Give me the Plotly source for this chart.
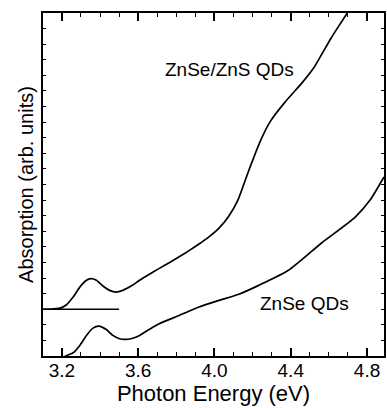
import plotly.graph_objects as go

# ZnSe/ZnS QDs absorption (arb. units)
core_shell_energy = [3.101, 3.137, 3.190, 3.224, 3.259, 3.294, 3.329, 3.351, 3.381, 3.415,
                     3.450, 3.485, 3.519, 3.572, 3.607, 3.659, 3.711, 3.763, 3.815, 3.867,
                     3.919, 3.971, 4.024, 4.074, 4.123, 4.180, 4.241, 4.293, 4.371,
                     4.458, 4.519, 4.612, 4.696, 4.750]
core_shell_abs = [3.00, 3.00, 3.07, 3.29, 3.78, 4.42, 4.86, 4.96, 4.86, 4.49,
                  4.21, 4.10, 4.21, 4.55, 4.86, 5.25, 5.62, 5.98, 6.36, 6.76,
                  7.18, 7.64, 8.20, 8.95, 10.00, 11.90, 13.80, 15.05, 16.30,
                  17.50, 18.45, 20.40, 22.00, 23.10]

# ZnSe QDs absorption (arb. units)
core_energy = [3.190, 3.216, 3.259, 3.294, 3.329, 3.363, 3.394, 3.433, 3.467, 3.502,
               3.528, 3.572, 3.607, 3.660, 3.711, 3.815, 3.919, 4.024, 4.128, 4.232,
               4.388, 4.560, 4.738, 4.816, 4.889]
core_abs = [-0.50, -0.03, 0.21, 0.68, 1.32, 1.79, 1.92, 1.70, 1.32, 1.11,
            1.06, 1.14, 1.32, 1.72, 2.07, 2.60, 3.14, 3.57, 3.96, 4.53,
            5.50, 7.23, 8.91, 10.00, 11.48]

# baseline reference for the core/shell curve
baseline_energy = [3.10, 3.50]
baseline_abs = [3.0, 3.0]

x_tick_vals = [3.2, 3.6, 4.0, 4.4, 4.8]
x_tick_text = ["3.2", "3.6", "4.0", "4.4", "4.8"]

FONT = "Liberation Sans"

fig = go.Figure()
line_style = dict(color="black", width=1.7, shape="spline", smoothing=0.6)
fig.add_trace(go.Scatter(x=core_shell_energy, y=core_shell_abs, mode="lines",
                         line=line_style, showlegend=False))
fig.add_trace(go.Scatter(x=core_energy, y=core_abs, mode="lines",
                         line=line_style, showlegend=False))
fig.add_trace(go.Scatter(x=baseline_energy, y=baseline_abs, mode="lines",
                         line=dict(color="black", width=1.7), showlegend=False))

fig.add_annotation(x=4.079, y=18.36, text="ZnSe/ZnS QDs", showarrow=False,
                   font=dict(family=FONT, size=19, color="black"))
fig.add_annotation(x=4.472, y=3.37, text="ZnSe QDs", showarrow=False,
                   font=dict(family=FONT, size=19, color="black"))

fig.update_layout(
    width=387, height=408,
    margin=dict(l=43, r=1, t=13, b=52),
    paper_bgcolor="white", plot_bgcolor="white",
    font=dict(family=FONT, size=19, color="black"),
    xaxis=dict(
        range=[3.101, 4.889],
        tickvals=x_tick_vals, ticktext=x_tick_text,
        ticks="inside", ticklen=8, tickwidth=1.5, tickcolor="black",
        minor=dict(dtick=0.1, tick0=3.2, ticks="inside", ticklen=4, tickwidth=1.2, tickcolor="black"),
        showline=True, linecolor="black", linewidth=2, mirror="ticks",
        showgrid=False, zeroline=False,
        ticklabelstandoff=-4,
        tickfont=dict(family=FONT, size=19),
        title=dict(text="Photon Energy (eV)", font=dict(family=FONT, size=22), standoff=1),
    ),
    yaxis=dict(
        range=[0, 22],
        dtick=1, tick0=0,
        ticks="inside", ticklen=3, tickwidth=1, tickcolor="black",
        showticklabels=False,
        showline=True, linecolor="black", linewidth=2, mirror="ticks",
        showgrid=False, zeroline=False,
        title=dict(text="Absorption (arb. units)", font=dict(family=FONT, size=20), standoff=2),
    ),
)

fig.write_html("out.html")
